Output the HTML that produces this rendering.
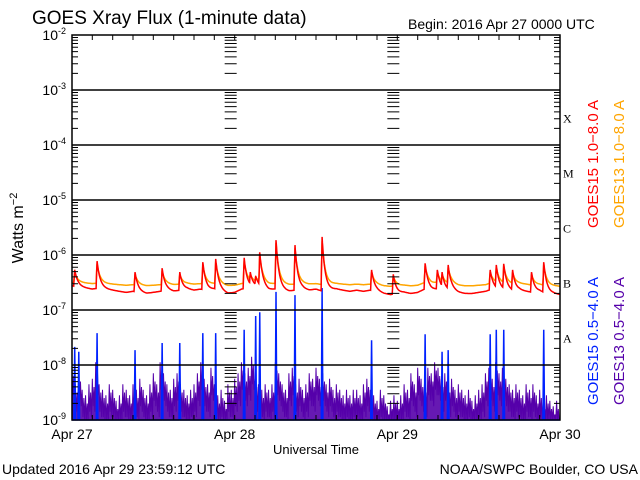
<!DOCTYPE html>
<html><head><meta charset="utf-8"><style>
body{margin:0;background:#fff;}
svg{display:block;font-family:"Liberation Sans",sans-serif;}
</style></head><body>
<svg id="chart" width="640" height="480" xmlns="http://www.w3.org/2000/svg">
<rect width="640" height="480" fill="#fff"/>
<text x="32" y="24" font-size="19" fill="#000">GOES Xray Flux (1-minute data)</text>
<text x="408" y="29" font-size="14" fill="#000">Begin:  2016 Apr 27 0000 UTC</text>
<text transform="translate(23,228) rotate(-90)" text-anchor="middle" font-size="16" fill="#000">Watts m<tspan dy="-6" font-size="11">−2</tspan></text>
<text x="316" y="454" text-anchor="middle" font-size="13" fill="#000">Universal Time</text>
<text x="2" y="474" font-size="14" fill="#000">Updated 2016 Apr 29 23:59:12 UTC</text>
<text x="638" y="474" text-anchor="end" font-size="14" fill="#000">NOAA/SWPC Boulder, CO USA</text>
<text transform="translate(598,164) rotate(-90)" text-anchor="middle" font-size="15" fill="#ff0000">GOES15 1.0−8.0 A</text>
<text transform="translate(624,164) rotate(-90)" text-anchor="middle" font-size="15" fill="#ffa500">GOES13 1.0−8.0 A</text>
<text transform="translate(598,341) rotate(-90)" text-anchor="middle" font-size="15" fill="#0022ff">GOES15 0.5−4.0 A</text>
<text transform="translate(624,341) rotate(-90)" text-anchor="middle" font-size="15" fill="#5500aa">GOES13 0.5−4.0 A</text>
<g id="plot"></g>
</svg>
<script>
// ---- data (hours since Apr 27 00:00, log10 W/m^2) ----
const dayLabels = ["Apr 27","Apr 28","Apr 29","Apr 30"];
const decadeExps = [-2,-3,-4,-5,-6,-7,-8,-9];
const classLetters = ["X","M","C","B","A"];
const classExps = [-4,-5,-6,-7,-8];
const redBase = [
-6.56,-6.58,-6.60,-6.62,-6.60,-6.62,-6.64,-6.66,-6.68,-6.66,-6.68,-6.70,
-6.68,-6.66,-6.64,-6.66,-6.64,-6.62,-6.64,-6.62,-6.64,-6.62,-6.66,-6.70,
-6.68,-6.62,-6.60,-6.58,-6.60,-6.64,-6.62,-6.64,-6.66,-6.64,-6.62,-6.64,
-6.62,-6.66,-6.64,-6.62,-6.64,-6.66,-6.64,-6.66,-6.64,-6.66,-6.70,-6.72,
-6.70,-6.68,-6.70,-6.68,-6.62,-6.64,-6.62,-6.66,-6.64,-6.68,-6.70,-6.70,
-6.68,-6.66,-6.62,-6.64,-6.64,-6.66,-6.64,-6.66,-6.68,-6.66,-6.70,-6.70,-6.72];
const orangeBase = [
-6.50,-6.50,-6.51,-6.52,-6.51,-6.52,-6.53,-6.54,-6.55,-6.54,-6.55,-6.56,
-6.55,-6.54,-6.53,-6.54,-6.53,-6.52,-6.53,-6.52,-6.53,-6.52,-6.54,-6.56,
-6.55,-6.52,-6.50,-6.49,-6.50,-6.53,-6.52,-6.53,-6.54,-6.53,-6.52,-6.53,
-6.52,-6.54,-6.53,-6.52,-6.53,-6.54,-6.53,-6.54,-6.53,-6.54,-6.56,-6.57,
-6.56,-6.55,-6.56,-6.55,-6.50,-6.52,-6.50,-6.53,-6.52,-6.55,-6.56,-6.56,
-6.55,-6.54,-6.50,-6.52,-6.52,-6.53,-6.52,-6.53,-6.55,-6.54,-6.56,-6.56,-6.57];
const flareHours = [0.4,3.7,9.3,13.3,15.9,19.3,21.2,25.4,26.3,27.1,27.7,30.1,32.9,36.9,44.2,47.4,52.1,53.9,54.6,55.5,61.7,62.6,63.7,65.0,67.8,69.6];
const redPeaks = [-6.27,-6.11,-6.31,-6.24,-6.31,-6.13,-6.07,-6.05,-6.31,-6.38,-5.95,-5.73,-5.82,-5.67,-6.27,-6.35,-6.15,-6.27,-6.31,-6.18,-6.27,-6.18,-6.16,-6.27,-6.31,-6.13];
const orangePeaks = [-6.32,-6.16,-6.35,-6.29,-6.35,-6.18,-6.12,-6.10,-6.35,-6.40,-6.00,-5.78,-5.87,-5.75,-6.31,-6.38,-6.20,-6.31,-6.35,-6.22,-6.31,-6.22,-6.20,-6.31,-6.35,-6.18];
const blueHours = [0.4,1.0,3.7,9.3,13.3,15.9,19.3,21.2,25.4,27.1,27.7,30.1,32.9,36.9,44.2,52.1,54.6,55.5,61.7,62.6,63.7,69.6];
const blueVals = [-7.67,-7.76,-7.42,-7.73,-7.6,-7.6,-7.42,-7.42,-7.36,-7.11,-7.04,-6.67,-6.73,-6.6,-7.55,-7.44,-7.76,-7.73,-7.44,-7.36,-7.36,-7.36];
const purpleVals = [
-8.05,-8.35,-8.15,-8.45,-8.55,-8.35,-8.25,-7.95,-8.35,-8.45,-8.55,-8.35,
-8.45,-8.65,-8.55,-8.35,-8.45,-8.55,-8.35,-8.45,-8.25,-8.45,-8.55,-8.35,
-8.15,-8.35,-7.95,-8.15,-8.35,-8.45,-8.25,-8.15,-8.35,-8.45,-8.55,-8.45,
-8.35,-8.15,-7.95,-8.25,-8.35,-8.05,-8.35,-8.55,-8.45,-8.65,-8.35,-8.45,
-8.25,-8.15,-7.95,-8.15,-8.05,-7.85,-8.25,-8.35,-8.45,-8.35,-8.45,-8.35,
-7.95,-8.15,-8.35,-8.45,-8.15,-8.05,-8.35,-8.25,-8.45,-8.35,-8.15,-8.25,
-8.05,-8.25,-8.15,-8.35,-8.25,-8.45,-8.35,-8.45,-8.55,-8.45,-8.55,-8.45,
-8.45,-8.55,-8.35,-8.25,-8.45,-8.55,-8.65,-8.45,-8.55,-8.75,-8.65,-8.55,
-8.65,-8.55,-8.35,-8.45,-8.15,-8.35,-8.05,-8.25,-8.35,-8.05,-8.15,-7.95,
-8.05,-8.25,-8.15,-8.35,-8.25,-8.45,-8.35,-8.45,-8.55,-8.45,-8.65,-8.55,
-8.45,-8.35,-8.15,-8.05,-8.25,-7.95,-8.15,-8.05,-8.25,-8.35,-8.45,-8.35,
-8.45,-8.55,-8.35,-8.45,-8.35,-8.55,-8.45,-8.65,-8.55,-8.65,-8.75,-8.65];

// ---- scales ----
const X0=72, X1=560, Y0=35, PXD=55;
const xs = h => X0 + h/72*(X1-X0);
const ys = e => Y0 + (-2 - e)*PXD;
const clampY = e => ys(Math.max(-9, Math.min(-2, e)));
const NS="http://www.w3.org/2000/svg";
const plot=document.getElementById('plot');
function mk(tag, attrs){const el=document.createElementNS(NS,tag);for(const k in attrs)el.setAttribute(k,attrs[k]);plot.appendChild(el);return el;}

function baseAt(arr,h){const i=Math.min(arr.length-2,Math.floor(h));const f=h-i;return arr[i]*(1-f)+arr[i+1]*f;}
function seriesAt(base,peaks,h){let v=baseAt(base,h);const b=v;
 for(let k=0;k<flareHours.length;k++){const dt=h-flareHours[k];let p=-99;
  if(dt>=-0.15&&dt<0){p=peaks[k]-(peaks[k]-b)*(-dt/0.15);}
  else if(dt>=0&&dt<3){p=b+(peaks[k]-b)*Math.exp(-dt/0.45);}
  if(p>v)v=p;}
 return v;}

// purple GOES13 short
let pp=`M${xs(0)},${ys(-9)}`;
purpleVals.forEach((v,i)=>{const h=i*0.5;pp+=` L${xs(h)},${clampY(v)} L${xs(h+0.12)},${clampY(v-0.5)} L${xs(h+0.25)},${clampY(v-0.15)} L${xs(h+0.37)},${clampY(v-0.6)}`;});
pp+=` L${xs(72)},${ys(-9)} Z`;
const purple=mk('path',{d:pp,fill:'#5500aa','fill-opacity':'0.9',stroke:'#5500aa','stroke-width':'1'});



// blue GOES15 short
let bp=`M${xs(0)},${ys(-9)}`;
blueHours.forEach((h,i)=>{bp+=` L${xs(h-0.12)},${ys(-9)} L${xs(h)},${clampY(blueVals[i])} L${xs(h+0.12)},${ys(-9)}`;});
bp+=` L${xs(72)},${ys(-9)}`;
const blue=mk('path',{d:bp,fill:'#0022ff',stroke:'#0022ff','stroke-width':'1.5'});



// long channels
function line(base,peaks,color,name){let d='';for(let h=0;h<=72;h+=0.05){d+=(d?' L':'M')+xs(h).toFixed(1)+','+clampY(seriesAt(base,peaks,h)).toFixed(1);}
 const el=mk('path',{d:d,fill:'none',stroke:color,'stroke-width':'1.5'});
 
 }
line(orangeBase,orangePeaks,'#ffa500','goes13-long-series');
line(redBase,redPeaks,'#ff0000','goes15-long-series');

// grid lines
decadeExps.slice(1,7).forEach(e=>{const g=mk('line',{x1:X0,x2:X1,y1:ys(e),y2:ys(e),stroke:'#000','stroke-width':'1.5'});
 
 });
const fr=mk('rect',{x:X0,y:Y0,width:X1-X0,height:7*PXD,fill:'none',stroke:'#000','stroke-width':'1.5'});


const tickCols=[[X0,1],[X1,-1],[xs(24)-4,1],[xs(24)-4,-1],[xs(48)-4,1],[xs(48)-4,-1]];
let td='';
for(let e=-9;e<-2;e++){for(let m=1;m<=9;m++){const y=ys(e+Math.log10(m));const len=(m===1)?10:6;
 tickCols.forEach(([x,s])=>{td+=`M${x},${y.toFixed(1)} h${s*len} `;});}}
for(let h=3;h<72;h+=3){td+=`M${xs(h).toFixed(1)},${Y0} v5 M${xs(h).toFixed(1)},${Y0+7*PXD} v-5 `;}
const ticks=mk('path',{d:td,stroke:'#000','stroke-width':'1',fill:'none'});


decadeExps.forEach(e=>{const t=mk('text',{x:66,y:ys(e)+5,'text-anchor':'end','font-size':'14',fill:'#000'});
 t.innerHTML=`10<tspan dy="-6" font-size="9">${e}</tspan>`;
 
 });
dayLabels.forEach((s,i)=>{const t=mk('text',{x:xs(i*24),y:439,'text-anchor':'middle','font-size':'14',fill:'#000'});t.textContent=s;
 
 });
classLetters.forEach((c,i)=>{const t=mk('text',{x:563,y:ys(classExps[i]+0.5)+5,'font-size':'12','font-family':'Liberation Serif, serif',fill:'#000'});t.textContent=c;
 
 });
</script>
</body></html>
